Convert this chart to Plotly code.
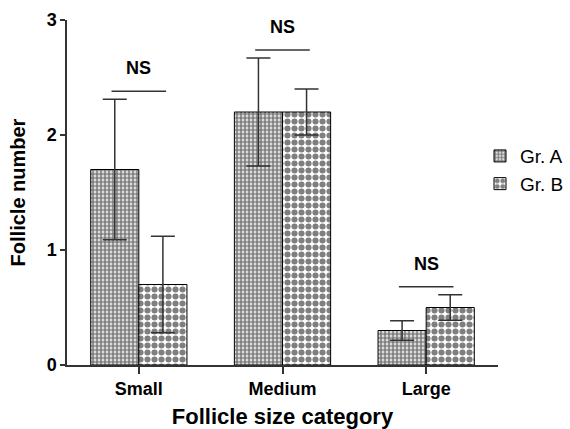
import plotly.graph_objects as go

# Follicle counts by size category (mean ± SEM)
categories = ["Small", "Medium", "Large"]
group_a = [1.7, 2.2, 0.3]
group_a_err = [0.61, 0.47, 0.085]
group_b = [0.7, 2.2, 0.5]
group_b_err = [0.42, 0.2, 0.11]
significance = ["NS", "NS", "NS"]
y_ticks = [0, 1, 2, 3]

FONT = "Arial, 'Liberation Sans', sans-serif"
W, H = 570, 429
ML, MR, MT, MB = 67, 0, 20, 64
PLOT_RIGHT = 498  # right end of the x axis, in pixels
x_domain_end = (PLOT_RIGHT - ML) / (W - ML - MR)

fig = go.Figure()

err_style = dict(type="data", thickness=1.5, width=12, color="#333333")

fig.add_trace(go.Bar(
    name="Gr. A", x=categories, y=group_a,
    error_y=dict(array=group_a_err, **err_style),
    marker=dict(color="white", line=dict(color="black", width=1),
                pattern=dict(shape=".", size=4, solidity=0.7,
                             fgcolor="black", bgcolor="white")),
))
fig.add_trace(go.Bar(
    name="Gr. B", x=categories, y=group_b,
    error_y=dict(array=group_b_err, **err_style),
    marker=dict(color="white", line=dict(color="black", width=1),
                pattern=dict(shape=".", size=7, solidity=0.6,
                             fgcolor="black", bgcolor="white")),
))

# Significance brackets above each pair
for i, label in enumerate(significance):
    top = max(group_a[i] + group_a_err[i], group_b[i] + group_b_err[i])
    yb = top + 0.07
    fig.add_shape(type="line", xref="x", yref="y",
                  x0=i - 0.19, x1=i + 0.19, y0=yb, y1=yb,
                  line=dict(color="#333333", width=1.5))
    fig.add_annotation(x=i, y=yb + 0.2, xref="x", yref="y", text=label,
                       showarrow=False,
                       font=dict(family=FONT, size=18, color="black", weight="bold"))

fig.update_layout(
    width=W, height=H,
    margin=dict(l=ML, r=MR, t=MT, b=MB),
    paper_bgcolor="white", plot_bgcolor="white",
    barmode="group", bargap=0.33, bargroupgap=0,
    font=dict(family=FONT, color="black"),
    legend=dict(x=(480 - ML) / (W - ML - MR), y=0.565, xanchor="left", yanchor="middle",
                font=dict(family=FONT, size=19, color="black"),
                bgcolor="rgba(0,0,0,0)", itemwidth=30),
    xaxis=dict(
        domain=[0, x_domain_end],
        range=[-0.5, 2.5], showline=True, linecolor="#333333", linewidth=1.5,
        ticks="outside", ticklen=7, tickwidth=1.5, tickcolor="#333333",
        tickfont=dict(family=FONT, size=18, color="black", weight="bold"),
        title=dict(text="Follicle size category",
                   font=dict(family=FONT, size=22, weight="bold"), standoff=10),
        showgrid=False, zeroline=False, automargin=False,
    ),
    yaxis=dict(
        range=[0, 3], tickvals=y_ticks, showline=True, linecolor="#333333", linewidth=1.5,
        ticks="outside", ticklen=5, tickwidth=1.5, tickcolor="#333333",
        tickfont=dict(family=FONT, size=18, color="black", weight="bold"),
        title=dict(text="Follicle number",
                   font=dict(family=FONT, size=20, weight="bold"), standoff=16),
        showgrid=False, zeroline=False, automargin=False,
    ),
)

fig.write_html("out.html")
